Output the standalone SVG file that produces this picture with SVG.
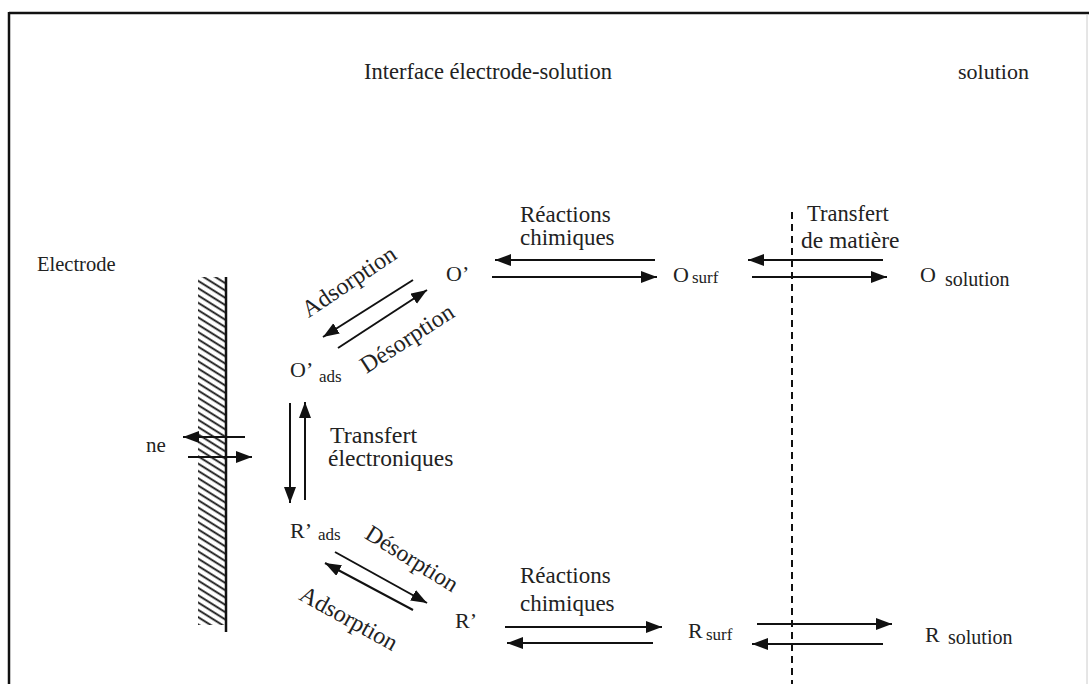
<svg xmlns="http://www.w3.org/2000/svg" width="1089" height="684" viewBox="0 0 1089 684">
<defs>
  <marker id="ah" markerUnits="userSpaceOnUse" markerWidth="17" markerHeight="14" refX="16" refY="6" orient="auto">
    <path d="M0,0 L16,6 L0,12 z" fill="#111"/>
  </marker>
  <pattern id="hatch" patternUnits="userSpaceOnUse" width="10" height="6.2" patternTransform="rotate(32)">
    <line x1="0" y1="3" x2="10" y2="3" stroke="#111" stroke-width="1.8"/>
  </pattern>
</defs>
<rect width="1089" height="684" fill="#fff"/>
<g id="frame">
  <line x1="9" y1="13" x2="1089" y2="13" stroke="#111" stroke-width="2.5"/>
  <line x1="9" y1="12" x2="9" y2="684" stroke="#111" stroke-width="2.5"/>
  <line x1="1087" y1="14" x2="1087" y2="684" stroke="#ccc" stroke-width="1"/>
</g>
<g id="titles">
  <text font-family="Liberation Serif" font-size="22.5" fill="#222" x="364" y="79">Interface électrode-solution</text>
  <text font-family="Liberation Serif" font-size="22" fill="#222" x="958" y="79">solution</text>
</g>
<g id="electrode">
  <text font-family="Liberation Serif" font-size="20.5" fill="#222" x="37" y="271">Electrode</text>
  <rect x="198" y="277" width="28" height="348" fill="url(#hatch)"/>
  <line x1="226" y1="277" x2="226" y2="632" stroke="#111" stroke-width="2.5"/>
</g>
<g id="ne">
  <text font-family="Liberation Serif" font-size="21" fill="#222" x="146" y="452">ne</text>
</g>
<g id="O-prime">
  <text font-family="Liberation Serif" font-size="22" fill="#222" x="446" y="281">O’</text>
</g>
<g id="O-ads">
  <text font-family="Liberation Serif" font-size="22" fill="#222" x="290" y="377">O’<tspan font-size="17" x="319" y="382">ads</tspan></text>
</g>
<g id="R-ads">
  <text font-family="Liberation Serif" font-size="22" fill="#222" x="290" y="538">R’<tspan font-size="17" x="318" y="540">ads</tspan></text>
</g>
<g id="R-prime">
  <text font-family="Liberation Serif" font-size="22" fill="#222" x="455" y="628">R’</text>
</g>
<g id="O-surf">
  <text font-family="Liberation Serif" font-size="22" fill="#222" x="673" y="282">O<tspan font-size="17" x="692" y="283">surf</tspan></text>
</g>
<g id="R-surf">
  <text font-family="Liberation Serif" font-size="22" fill="#222" x="688" y="638">R<tspan font-size="17" x="706" y="640">surf</tspan></text>
</g>
<g id="O-solution">
  <text font-family="Liberation Serif" font-size="22" fill="#222" x="920" y="282">O<tspan font-size="20" x="945" y="286">solution</tspan></text>
</g>
<g id="R-solution">
  <text font-family="Liberation Serif" font-size="22" fill="#222" x="925" y="642">R<tspan font-size="20" x="948" y="644">solution</tspan></text>
</g>
<g id="labels">
  <text font-family="Liberation Serif" font-size="23" fill="#222" x="520" y="222">Réactions</text>
  <text font-family="Liberation Serif" font-size="23" fill="#222" x="520" y="245">chimiques</text>
  <text font-family="Liberation Serif" font-size="22.5" fill="#222" x="807" y="221">Transfert</text>
  <text font-family="Liberation Serif" font-size="23.5" fill="#222" x="801" y="248">de matière</text>
  <text font-family="Liberation Serif" font-size="24" fill="#222" x="330" y="443">Transfert</text>
  <text font-family="Liberation Serif" font-size="23.5" fill="#222" x="328" y="466">électroniques</text>
  <text font-family="Liberation Serif" font-size="23" fill="#222" x="520" y="583">Réactions</text>
  <text font-family="Liberation Serif" font-size="23" fill="#222" x="520" y="611">chimiques</text>
  <text font-family="Liberation Serif" font-size="24" fill="#222" transform="translate(350,283) rotate(-34)" x="0" y="6" text-anchor="middle">Adsorption</text>
  <text font-family="Liberation Serif" font-size="24" fill="#222" transform="translate(408,340) rotate(-33)" x="0" y="6" text-anchor="middle">Désorption</text>
  <text font-family="Liberation Serif" font-size="23.5" fill="#222" transform="translate(411,560) rotate(32)" x="0" y="6" text-anchor="middle">Désorption</text>
  <text font-family="Liberation Serif" font-size="24" fill="#222" transform="translate(348,620) rotate(29)" x="0" y="6" text-anchor="middle">Adsorption</text>
</g>
<g id="connectors" stroke="#111" stroke-width="2" fill="none">
  <line marker-end="url(#ah)" x1="413" y1="280" x2="323" y2="337"/>
  <line marker-end="url(#ah)" x1="338" y1="348" x2="427" y2="290"/>
  <line marker-end="url(#ah)" x1="335" y1="552" x2="427" y2="603"/>
  <line marker-end="url(#ah)" x1="413" y1="610" x2="325" y2="563"/>
  <line marker-end="url(#ah)" x1="290" y1="403" x2="290" y2="503"/>
  <line marker-end="url(#ah)" x1="305" y1="500" x2="305" y2="402"/>
  <line marker-end="url(#ah)" x1="245" y1="437" x2="183" y2="437"/>
  <line marker-end="url(#ah)" x1="188" y1="457" x2="252" y2="457"/>
  <line marker-end="url(#ah)" x1="655" y1="260" x2="495" y2="260"/>
  <line marker-end="url(#ah)" x1="492" y1="277" x2="657" y2="277"/>
  <line marker-end="url(#ah)" x1="883" y1="260" x2="748" y2="260"/>
  <line marker-end="url(#ah)" x1="752" y1="277" x2="887" y2="277"/>
  <line marker-end="url(#ah)" x1="505" y1="627" x2="662" y2="627"/>
  <line marker-end="url(#ah)" x1="653" y1="643" x2="507" y2="643"/>
  <line marker-end="url(#ah)" x1="757" y1="624" x2="892" y2="624"/>
  <line marker-end="url(#ah)" x1="883" y1="644" x2="752" y2="644"/>
  <line x1="792" y1="212" x2="792" y2="684" stroke-dasharray="7 5"/>
</g>
</svg>
